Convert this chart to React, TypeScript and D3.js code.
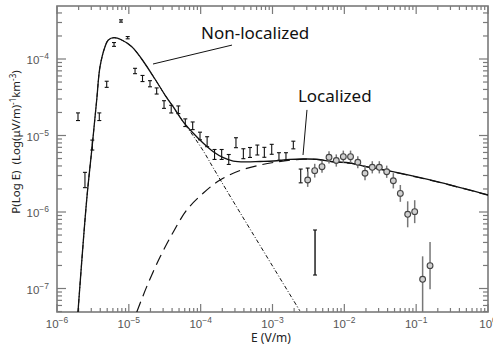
import React from "react";
import * as d3 from "d3";

// non-localized data (error-bar "I" markers)
const nlE = [1.96e-6, 2.45e-6, 3.1e-6, 3.88e-6, 4.92e-6, 6.22e-6, 7.78e-6, 9.64e-6, 1.22e-5, 1.55e-5, 1.97e-5, 2.44e-5, 3.09e-5, 3.89e-5, 4.89e-5, 6.11e-5, 7.74e-5, 9.79e-5, 1.23e-4, 1.56e-4, 1.96e-4, 2.46e-4, 3.1e-4, 3.93e-4, 4.86e-4, 6.15e-4, 7.7e-4, 9.75e-4, 1.23e-3, 1.54e-3, 1.95e-3, 2.47e-3, 3.09e-3];
const nlP = [1.76e-5, 2.62e-6, 7.5e-6, 1.76e-5, 4.67e-5, 1.55e-4, 3.14e-4, 1.9e-4, 6.97e-5, 5.56e-5, 4.75e-5, 3.82e-5, 2.54e-5, 2.21e-5, 2.17e-5, 1.47e-5, 1.34e-5, 9.85e-6, 8.3e-6, 5.65e-6, 5.65e-6, 4.86e-6, 8.05e-6, 5.78e-6, 6.0e-6, 6.46e-6, 6.03e-6, 6.6e-6, 5.31e-6, 5.31e-6, 7.51e-6, 2.96e-6, 3.05e-6];
const nlErrDex = [0.05, 0.1, 0.065, 0.05, 0.04, 0.025, 0.015, 0.015, 0.035, 0.04, 0.04, 0.04, 0.05, 0.05, 0.05, 0.05, 0.05, 0.05, 0.065, 0.065, 0.065, 0.065, 0.065, 0.065, 0.065, 0.065, 0.065, 0.065, 0.05, 0.05, 0.05, 0.09, 0.09];

// lone bar near 4e-3
const loneE = 3.91e-3;
const loneLo = 1.5e-7;
const loneHi = 5.82e-7;

// localized data (circle markers)
const locE = [3.09e-3, 3.87e-3, 4.89e-3, 6.12e-3, 7.73e-3, 9.68e-3, 1.22e-2, 1.54e-2, 1.94e-2, 2.45e-2, 3.07e-2, 3.89e-2, 4.81e-2, 6.02e-2, 7.62e-2, 9.54e-2, 1.23e-1, 1.56e-1];
const locP = [2.62e-6, 3.47e-6, 3.91e-6, 5.19e-6, 4.71e-6, 5.28e-6, 5.28e-6, 4.47e-6, 3.21e-6, 3.84e-6, 3.84e-6, 3.36e-6, 2.56e-6, 1.75e-6, 9.33e-7, 1.01e-6, 1.32e-7, 1.99e-7];
const locErrHi = [0.11, 0.09, 0.08, 0.08, 0.08, 0.08, 0.08, 0.08, 0.09, 0.08, 0.08, 0.08, 0.1, 0.11, 0.17, 0.15, 0.3, 0.31];
const locErrLo = [0.09, 0.09, 0.08, 0.08, 0.08, 0.08, 0.08, 0.08, 0.09, 0.08, 0.08, 0.08, 0.1, 0.11, 0.17, 0.15, 0.45, 0.31];

// model curves
const totalE = [1.96e-6, 2.59e-6, 3.1e-6, 3.57e-6, 3.97e-6, 4.66e-6, 5.18e-6, 6.22e-6, 7.96e-6, 1.1e-5, 1.51e-5, 2.31e-5, 3.19e-5, 4.16e-5, 5.73e-5, 7.9e-5, 1.09e-4, 1.5e-4, 2.07e-4, 2.84e-4, 4.14e-4, 6.7e-4, 1.03e-3, 1.75e-3, 2.69e-3, 4.12e-3, 7.03e-3, 1.2e-2, 1.84e-2, 3.89e-2, 0.215, 1];
const totalP = [4.93e-8, 1.44e-6, 7.52e-6, 2.91e-5, 7.93e-5, 1.45e-4, 1.77e-4, 1.9e-4, 1.77e-4, 1.45e-4, 1.0e-4, 5.48e-5, 3.38e-5, 2.36e-5, 1.51e-5, 1.07e-5, 7.91e-6, 6.14e-6, 5.13e-6, 4.64e-6, 4.51e-6, 4.57e-6, 4.64e-6, 4.86e-6, 4.93e-6, 4.89e-6, 4.54e-6, 4.37e-6, 3.99e-6, 3.49e-6, 2.44e-6, 1.67e-6];

const nonLocE = [1.96e-6, 2.59e-6, 3.1e-6, 3.57e-6, 3.97e-6, 4.66e-6, 5.18e-6, 6.22e-6, 7.96e-6, 1.1e-5, 1.51e-5, 2.31e-5, 3.19e-5, 4.16e-5, 5.73e-5, 7.9e-5, 1.09e-4, 1.5e-4, 2.56e-4, 4.86e-4, 1.08e-3, 2.41e-3];
const nonLocP = [4.93e-8, 1.44e-6, 7.52e-6, 2.91e-5, 7.93e-5, 1.45e-4, 1.77e-4, 1.9e-4, 1.77e-4, 1.45e-4, 1.0e-4, 5.48e-5, 3.38e-5, 2.36e-5, 1.5e-5, 9.85e-6, 6.27e-6, 3.76e-6, 1.62e-6, 6.0e-7, 1.75e-7, 5.08e-8];

const locCurveE = [1.29e-5, 1.77e-5, 2.72e-5, 4.16e-5, 6.39e-5, 1.09e-4, 1.86e-4, 3.53e-4, 6.7e-4, 1.14e-3, 1.75e-3, 2.69e-3, 4.12e-3, 7.03e-3, 1.2e-2, 1.84e-2, 3.89e-2, 0.215, 1];
const locCurveP = [4.93e-8, 1.05e-7, 2.58e-7, 5.48e-7, 1.06e-6, 1.77e-6, 2.62e-6, 3.49e-6, 4.11e-6, 4.51e-6, 4.75e-6, 4.9e-6, 4.86e-6, 4.52e-6, 4.35e-6, 3.98e-6, 3.48e-6, 2.43e-6, 1.66e-6];

const xMajor = [1e-6, 1e-5, 1e-4, 1e-3, 1e-2, 1e-1, 1];
const xExp = ["−6", "−5", "−4", "−3", "−2", "−1", "0"];
const yMajor = [1e-7, 1e-6, 1e-5, 1e-4];
const yExp = ["−7", "−6", "−5", "−4"];

const W = 493, H = 349;
const L = 57, R = 488, T = 6, B = 312;

const x = d3.scaleLog().domain([1e-6, 1]).range([L, R]);
const y = d3.scaleLog().domain([4.93e-8, 4.93e-4]).range([B, T]);

const minors = (lo: number, hi: number) => {
  const out: number[] = [];
  for (let d = Math.floor(Math.log10(lo)); d < Math.ceil(Math.log10(hi)); d++) {
    for (let k = 2; k <= 9; k++) {
      const v = k * Math.pow(10, d);
      if (v > lo && v < hi) out.push(v);
    }
  }
  return out;
};

const line = d3.line<[number, number]>().x(d => x(d[0])).y(d => y(d[1])).curve(d3.curveCatmullRom.alpha(0.5));
const zip = (a: number[], b: number[]) => a.map((v, i) => [v, b[i]] as [number, number]);

export default function App() {
  const axisCol = "#7a7a7a";
  const tickFont = "'Liberation Sans', Arial, sans-serif";
  const xMin = minors(1e-6, 1);
  const yMin = minors(4.93e-8, 4.93e-4);
  const up = (v: number, dex: number) => v * Math.pow(10, dex);
  const dn = (v: number, dex: number) => v / Math.pow(10, dex);
  return (
    <svg width={W} height={H} style={{ position: "absolute", left: 0, top: 0, background: "#fff" }}>
      <defs>
        <clipPath id="plot"><rect x={L} y={T} width={R - L} height={B - T} /></clipPath>
      </defs>
      {/* ticks */}
      <g stroke={axisCol} strokeWidth={1.2}>
        {xMajor.map(v => (
          <g key={"xm" + v}>
            <line x1={x(v)} x2={x(v)} y1={B} y2={B - 8} />
            <line x1={x(v)} x2={x(v)} y1={T} y2={T + 8} />
          </g>
        ))}
        {xMin.map(v => (
          <g key={"xn" + v}>
            <line x1={x(v)} x2={x(v)} y1={B} y2={B - 4} />
            <line x1={x(v)} x2={x(v)} y1={T} y2={T + 4} />
          </g>
        ))}
        {yMajor.map(v => (
          <g key={"ym" + v}>
            <line x1={L} x2={L + 9} y1={y(v)} y2={y(v)} />
            <line x1={R} x2={R - 9} y1={y(v)} y2={y(v)} />
          </g>
        ))}
        {yMin.map(v => (
          <g key={"yn" + v}>
            <line x1={L} x2={L + 5} y1={y(v)} y2={y(v)} />
            <line x1={R} x2={R - 5} y1={y(v)} y2={y(v)} />
          </g>
        ))}
      </g>
      <rect x={L} y={T} width={R - L} height={B - T} fill="none" stroke={axisCol} strokeWidth={1.6} />
      {/* tick labels */}
      <g fill="#555" fontFamily={tickFont} fontSize={11.5}>
        {xMajor.map((v, i) => (
          <text key={"xl" + v} x={x(v)} y={328} textAnchor="middle">
            10<tspan fontSize={8.5} dy={-5}>{xExp[i]}</tspan>
          </text>
        ))}
        {yMajor.map((v, i) => (
          <text key={"yl" + v} x={49} y={y(v) + 5} textAnchor="end">
            10<tspan fontSize={8.5} dy={-5}>{yExp[i]}</tspan>
          </text>
        ))}
      </g>
      <text x={271} y={342} textAnchor="middle" fontFamily="'Noto Sans', sans-serif" fontSize={12} fill="#222">E (V/m)</text>
      <text transform="translate(20,142) rotate(-90)" textAnchor="middle" fontFamily="'Noto Sans', sans-serif" fontSize={11.5} fill="#222">
        {"P(Log E)\u00a0\u00a0(Log(μV/m)"}<tspan fontSize={8} dy={-4}>-1</tspan><tspan dy={4}>km</tspan><tspan fontSize={8} dy={-4}>-3</tspan><tspan dy={4}>)</tspan>
      </text>
      {/* curves */}
      <g clipPath="url(#plot)" fill="none" stroke="#111">
        <path d={line(zip(nonLocE, nonLocP)) || ""} strokeWidth={1} strokeDasharray="4,2,1,2" />
        <path d={line(zip(locCurveE, locCurveP)) || ""} strokeWidth={1.2} strokeDasharray="11,6" />
        <path d={line(zip(totalE, totalP)) || ""} strokeWidth={1.3} />
      </g>
      {/* non-localized data */}
      <g stroke="#111" strokeWidth={1.1}>
        {nlE.map((e, i) => {
          const cx = x(e);
          const y1 = y(up(nlP[i], nlErrDex[i]));
          const y2 = y(dn(nlP[i], nlErrDex[i]));
          return (
            <g key={"nl" + i}>
              <line x1={cx} x2={cx} y1={y1} y2={y2} />
              <line x1={cx - 2} x2={cx + 2} y1={y1} y2={y1} />
              <line x1={cx - 2} x2={cx + 2} y1={y2} y2={y2} />
            </g>
          );
        })}
        <line x1={x(loneE)} x2={x(loneE)} y1={y(loneHi)} y2={y(loneLo)} strokeWidth={1.4} />
        <line x1={x(loneE) - 2} x2={x(loneE) + 2} y1={y(loneHi)} y2={y(loneHi)} />
        <line x1={x(loneE) - 2} x2={x(loneE) + 2} y1={y(loneLo)} y2={y(loneLo)} />
      </g>
      {/* localized data */}
      <g clipPath="url(#plot)">
        {locE.map((e, i) => (
          <line key={"le" + i} x1={x(e)} x2={x(e)} y1={y(up(locP[i], locErrHi[i]))} y2={y(dn(locP[i], locErrLo[i]))} stroke="#777" strokeWidth={1.5} />
        ))}
        {locE.map((e, i) => (
          <circle key={"lc" + i} cx={x(e)} cy={y(locP[i])} r={2.9} fill="#d0d0d0" stroke="#444" strokeWidth={1.1} />
        ))}
      </g>
      {/* annotations */}
      <g stroke="#111" strokeWidth={1}>
        <line x1={x(2.17e-5)} y1={y(8.6e-5)} x2={x(2.73e-4)} y2={y(1.52e-4)} />
        <line x1={x(2.66e-3)} y1={y(5.56e-6)} x2={x(3.02e-3)} y2={y(2.16e-5)} />
      </g>
      <g fontFamily="'Noto Sans', sans-serif" fontSize={17} fill="#111">
        <text x={x(1.01e-4)} y={y(1.82e-4)}>Non-localized</text>
        <text x={x(2.26e-3)} y={y(2.74e-5)}>Localized</text>
      </g>
    </svg>
  );
}
